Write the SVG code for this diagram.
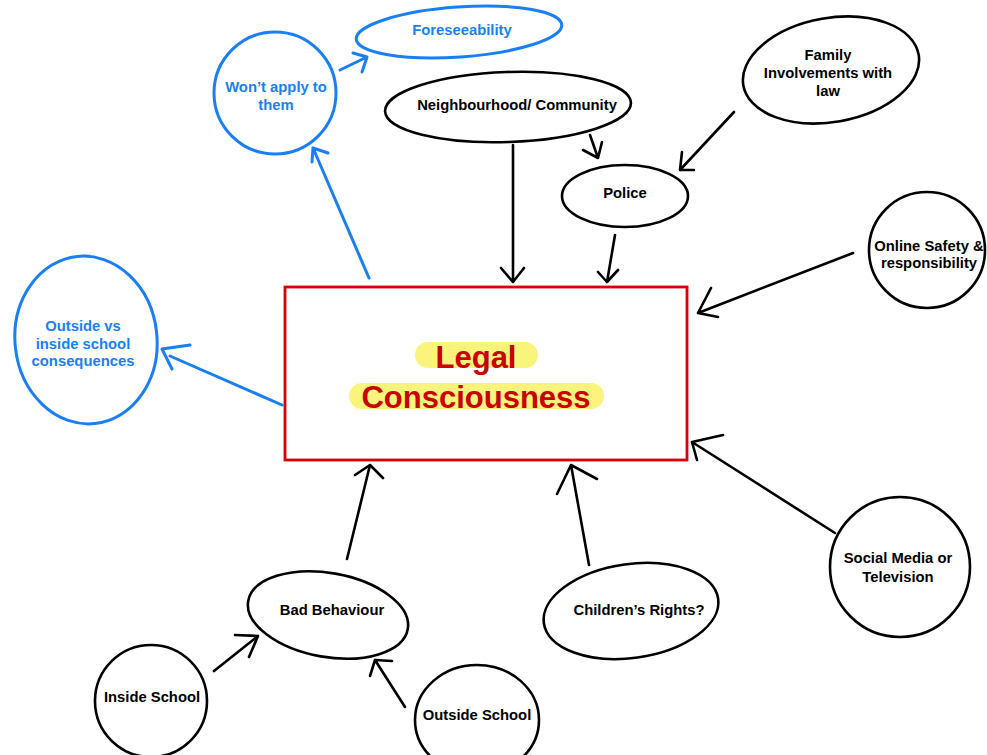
<svg xmlns="http://www.w3.org/2000/svg" width="987" height="755" viewBox="0 0 987 755">
<style>
.bk{fill:#fff;stroke:#000;stroke-width:2.6}
.bl{fill:#fff;stroke:#1a7ff5;stroke-width:3}
.t{font-family:"Liberation Sans",Arial,Helvetica,sans-serif;font-weight:bold;font-size:14.8px;text-anchor:middle;fill:#000}
.tb{fill:#1a7ff5}
.ca{fill:none;stroke:#000;stroke-width:2.6;stroke-linecap:round;stroke-linejoin:round}
.cb{fill:none;stroke:#1a7ff5;stroke-width:3;stroke-linecap:round;stroke-linejoin:round}
.big{font-family:"Liberation Sans",Arial,Helvetica,sans-serif;font-weight:bold;font-size:31px;text-anchor:middle;fill:#c80000}
</style>
<rect width="987" height="755" fill="#fff"/>
<g id="connectors">
<path class="cb" d="M369 278 L313 148 M312 162 L313 148 L328 153"/>
<path class="cb" d="M340 70 L367 57 M353 53 L367 57 L362 72"/>
<path class="cb" d="M282 405 L170 356 M190 345 L162 349 L172 369"/>
<path class="ca" d="M513 145 L513 282 M501 268 L513 282 L524 268"/>
<path class="ca" d="M590 135 L598 158 M583 150 L598 158 L602 142"/>
<path class="ca" d="M734 112 L680 170 M682 152 L680 170 L694 170"/>
<path class="ca" d="M615 235 L607 282 M598 272 L607 282 L618 270"/>
<path class="ca" d="M853 253 L698 313 M711 288 L698 313 L718 317"/>
<path class="ca" d="M835 533 L692 442 M723 435 L692 442 L697 460"/>
<path class="ca" d="M589 565 L571 465 M557 494 L571 465 L597 479"/>
<path class="ca" d="M347 559 L370 465 M355 475 L370 465 L383 478"/>
<path class="ca" d="M214 671 L258 636 M235 635 L258 636 L249 657"/>
<path class="ca" d="M405 707 L375 660 M392 661 L375 660 L370 676"/>
</g>
<g id="legal">
<rect x="285" y="287" width="402" height="173" fill="#fff" stroke="#d80000" stroke-width="2.8"/>
<rect x="415" y="342" width="123" height="26" rx="13" fill="#fbf47c"/>
<rect x="349" y="383" width="255" height="26" rx="13" fill="#fbf47c"/>
<text class="big" x="476" y="368">Legal</text>
<text class="big" x="476" y="408">Consciousness</text>
</g>
<g id="foreseeability">
<ellipse class="bl" cx="459" cy="32" rx="103" ry="25" transform="rotate(-4 459 32)"/>
<text class="t tb" x="462" y="35">Foreseeability</text>
</g>
<g id="wont">
<circle class="bl" cx="275" cy="93" r="61"/>
<text class="t tb" x="276" y="92">Won’t apply to</text>
<text class="t tb" x="276" y="110">them</text>
</g>
<g id="outside-vs">
<ellipse class="bl" cx="86" cy="340" rx="71" ry="84" transform="rotate(-6 86 340)"/>
<text class="t tb" x="83" y="331">Outside vs</text>
<text class="t tb" x="83" y="349">inside school</text>
<text class="t tb" x="83" y="366">consequences</text>
</g>
<g id="neighbourhood">
<ellipse class="bk" cx="508" cy="107" rx="123" ry="35" transform="rotate(-2 508 107)"/>
<text class="t" x="517" y="110">Neighbourhood/ Community</text>
</g>
<g id="police">
<ellipse class="bk" cx="625" cy="196" rx="63" ry="31"/>
<text class="t" x="625" y="198">Police</text>
</g>
<g id="family">
<ellipse class="bk" cx="831" cy="70" rx="89" ry="52" transform="rotate(-10 831 70)"/>
<text class="t" x="828" y="60">Family</text>
<text class="t" x="828" y="78">Involvements with</text>
<text class="t" x="828" y="96">law</text>
</g>
<g id="online">
<circle class="bk" cx="927" cy="250" r="58"/>
<text class="t" x="929" y="251">Online Safety &amp;</text>
<text class="t" x="929" y="268">responsibility</text>
</g>
<g id="social">
<circle class="bk" cx="900" cy="567" r="70"/>
<text class="t" x="898" y="563">Social Media or</text>
<text class="t" x="898" y="582">Television</text>
</g>
<g id="children">
<ellipse class="bk" cx="631" cy="611" rx="88" ry="47" transform="rotate(-8 631 611)"/>
<text class="t" x="639" y="615">Children’s Rights?</text>
</g>
<g id="bad">
<ellipse class="bk" cx="328" cy="615" rx="81" ry="42" transform="rotate(10 328 615)"/>
<text class="t" x="332" y="615">Bad Behaviour</text>
</g>
<g id="inside">
<circle class="bk" cx="151" cy="701" r="56"/>
<text class="t" x="152" y="702">Inside School</text>
</g>
<g id="outside">
<ellipse class="bk" cx="477" cy="720" rx="62" ry="55"/>
<text class="t" x="477" y="720">Outside School</text>
</g>
</svg>
